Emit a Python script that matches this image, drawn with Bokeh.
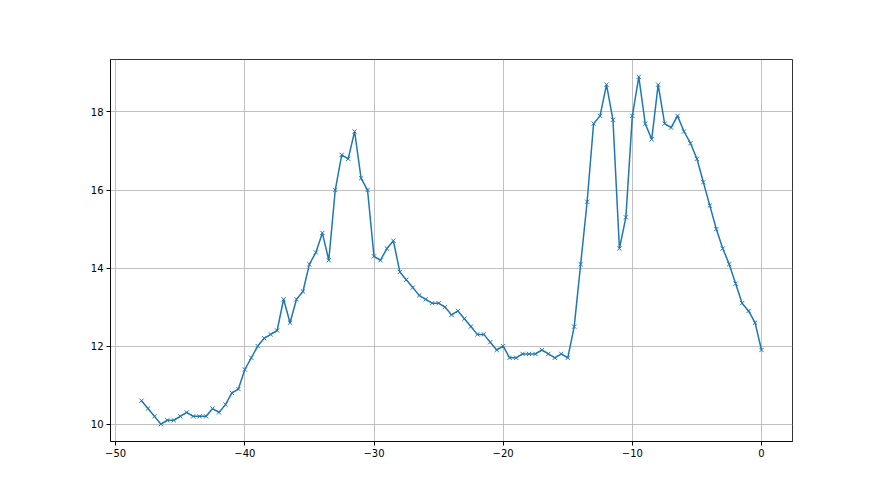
from bokeh.plotting import figure
from bokeh.models import Range1d, FixedTicker
from bokeh.embed import file_html
from bokeh.resources import INLINE

x_values = [-48 + 0.5 * i for i in range(97)]
y_values = [
    10.6, 10.4, 10.2, 10.0, 10.1, 10.1, 10.2, 10.3, 10.2, 10.2, 10.2, 10.4, 10.3, 10.5, 10.8, 10.9,
    11.4, 11.7, 12.0, 12.2, 12.3, 12.4, 13.2, 12.6, 13.2, 13.4, 14.1, 14.4, 14.9, 14.2, 16.0, 16.9,
    16.8, 17.5, 16.3, 16.0, 14.3, 14.2, 14.5, 14.7, 13.9, 13.7, 13.5, 13.3, 13.2, 13.1, 13.1, 13.0,
    12.8, 12.9, 12.7, 12.5, 12.3, 12.3, 12.1, 11.9, 12.0, 11.7, 11.7, 11.8, 11.8, 11.8, 11.9, 11.8,
    11.7, 11.8, 11.7, 12.5, 14.1, 15.7, 17.7, 17.9, 18.7, 17.8, 14.5, 15.3, 17.9, 18.9, 17.7, 17.3,
    18.7, 17.7, 17.6, 17.9, 17.5, 17.2, 16.8, 16.2, 15.6, 15.0, 14.5, 14.1, 13.6, 13.1, 12.9, 12.6,
    11.9,
]
x_ticks = [-50, -40, -30, -20, -10, 0]
y_ticks = [10, 12, 14, 16, 18]

p = figure(
    frame_width=682, frame_height=382,
    min_border_left=110, min_border_right=80, min_border_top=59, min_border_bottom=46,
    x_range=Range1d(-50.4, 2.4), y_range=Range1d(9.555, 19.345),
    output_backend="svg", toolbar_location=None,
)
p.background_fill_color = "white"
p.border_fill_color = "white"
p.outline_line_color = "black"
p.outline_line_width = 0.8

p.line(x_values, y_values, line_color="#1f77b4", line_width=1.5)
p.scatter(x_values, y_values, marker="x", size=6, line_color="#1f77b4", line_width=1)

for ax, ticks in ((p.xaxis, x_ticks), (p.yaxis, y_ticks)):
    ax.ticker = FixedTicker(ticks=ticks)
    ax.minor_tick_line_color = None
    ax.major_tick_in = 0
    ax.major_tick_out = 4
    ax.major_tick_line_color = "black"
    ax.axis_line_color = "black"
    ax.axis_line_width = 0.8
    ax.major_label_text_font = "DejaVu Sans"
    ax.major_label_text_font_size = "10px"
    ax.major_label_text_color = "black"
    ax.major_label_standoff = 3

p.xgrid.grid_line_color = "#b0b0b0"
p.ygrid.grid_line_color = "#b0b0b0"
p.xgrid.grid_line_width = 0.8
p.ygrid.grid_line_width = 0.8

open("out.html", "w").write(file_html(p, INLINE))
